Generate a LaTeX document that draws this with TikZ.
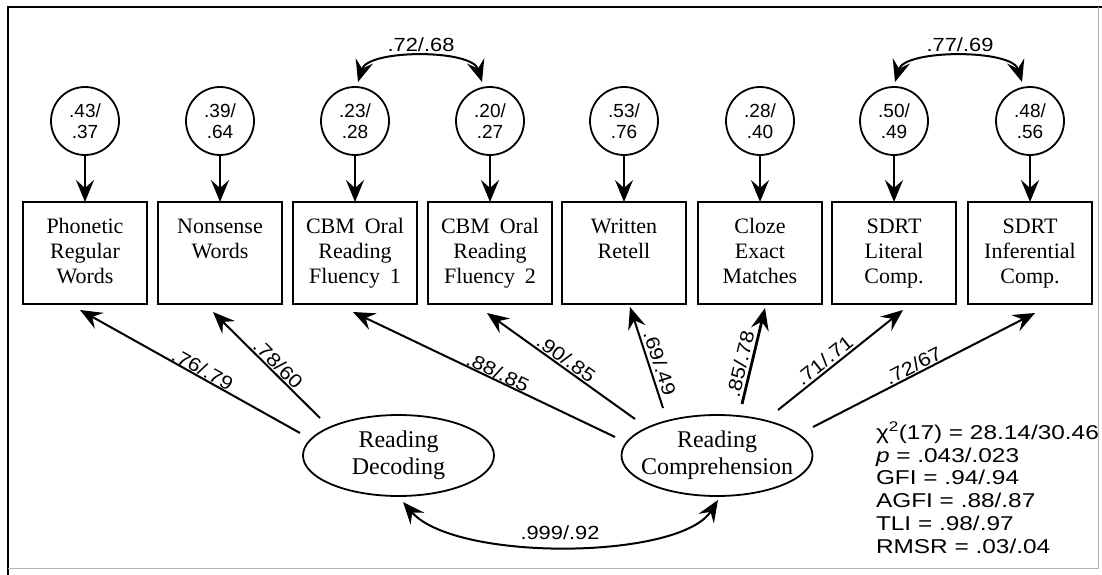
\documentclass[tikz,border=0pt]{standalone}
\usepackage{fontspec}
\setmainfont{Liberation Serif}
\newfontfamily\numfont{Liberation Sans}
\newfontfamily\lblfont[FakeStretch=1.15]{Liberation Sans}
\newfontfamily\statfont[FakeStretch=1.22]{Liberation Sans}
\usetikzlibrary{arrows.meta,calc,shapes.geometric}
\tikzset{
  every node/.style={inner sep=0pt, outer sep=0pt},
  boxnode/.style={draw, line width=1.8pt, minimum width=124pt, minimum height=102pt, align=center,
    font=\fontsize{22}{25}\selectfont},
  errnode/.style={draw, circle, line width=1.8pt, minimum size=68pt, align=center,
    font=\numfont\fontsize{19}{21.5}\selectfont},
  latnode/.style={draw, ellipse, line width=1.8pt, minimum width=191pt, minimum height=81pt,
    inner xsep=-10pt, align=center, font=\fontsize{24}{27}\selectfont},
  tipA/.tip={Stealth[length=22pt,width=18pt,inset=8pt]},
  arr/.style={line width=2pt, -tipA},
  dblarr/.style={line width=2pt, tipA-tipA},
  lbl/.style={font=\lblfont\fontsize{19}{21}\selectfont},
  stat/.style={align=left, font=\statfont\fontsize{20}{22.8}\selectfont},
}
\begin{document}
\begin{tikzpicture}[x=1pt,y=-1pt]
\useasboundingbox (0,0) rectangle (1102,575);
% frame
\draw[line width=2pt] (1102,7) -- (8,7) -- (8,575);
\draw[line width=1pt, black!30] (8,568) -- (1098,568) -- (1098,7);

% observed variables
\node[boxnode] (b1) at (85,253)   {\strut Phonetic\\Regular\\Words\strut};
\node[boxnode] (b2) at (220,253)  {\strut Nonsense\\Words\\\strut};
\node[boxnode] (b3) at (355,253)  {\strut CBM\hspace{0.45em}Oral\\Reading\\Fluency\hspace{0.45em}1\strut};
\node[boxnode] (b4) at (490,253)  {\strut CBM\hspace{0.45em}Oral\\Reading\\Fluency\hspace{0.45em}2\strut};
\node[boxnode] (b5) at (624,253)  {\strut Written\\Retell\\\strut};
\node[boxnode] (b6) at (760,253)  {\strut Cloze\\Exact\\Matches\strut};
\node[boxnode] (b7) at (894,253)  {\strut SDRT\\Literal\\Comp.\strut};
\node[boxnode] (b8) at (1030,253) {\strut SDRT\\Inferential\\Comp.\strut};

% error terms
\node[errnode] (c1) at (85,121)   {.43/\\.37};
\node[errnode] (c2) at (220,121)  {.39/\\.64};
\node[errnode] (c3) at (355,121)  {.23/\\.28};
\node[errnode] (c4) at (490,121)  {.20/\\.27};
\node[errnode] (c5) at (624,121)  {.53/\\.76};
\node[errnode] (c6) at (760,121)  {.28/\\.40};
\node[errnode] (c7) at (894,121)  {.50/\\.49};
\node[errnode] (c8) at (1030,121) {.48/\\.56};

\foreach \i in {1,...,8} { \draw[arr] (c\i) -- (b\i); }

% correlated errors
\draw[dblarr] ($(c3.north)+(3,-5)$) .. controls +(10,-33) and +(-10,-33) .. ($(c4.north)+(-8,-5)$);
\node[lbl] (r34) at (421,45) {.72/.68};
\draw[dblarr] ($(c7.north)+(1,-5)$) .. controls +(10,-33) and +(-10,-33) .. ($(c8.north)+(-8,-5)$);
\node[lbl] (r78) at (960,45) {.77/.69};

% latent variables
\node[latnode] (RD) at (398.5,455.5) {\strut Reading\\Decoding\strut};
\node[latnode] (RC) at (717,455.5) {\strut Reading\\Comprehension\strut};

% loadings
\draw[arr] ($(RD)+(-98.5,-22.5)$) -- node[lbl, sloped, above=1pt, pos=0.46] {.76/.79} ($(b1.south)+(-5,6)$);
\draw[arr] ($(RD)+(-78.5,-37.5)$) -- node[lbl, sloped, above=2pt, pos=0.45] {.78/60} ($(b2.south)+(-7,8)$);
\draw[arr] ($(RC)+(-102,-18.5)$) -- node[lbl, sloped, above=1pt, pos=0.46] {.88/.85} ($(b3.south)+(-2,8)$);
\draw[arr] ($(RC)+(-82,-36.5)$) -- node[lbl, sloped, above=2pt, pos=0.50] {.90/.85} ($(b4.south)+(-3,9)$);
\draw[arr] ($(RC)+(-54,-47.5)$) -- node[lbl, sloped, above=4pt, pos=0.41] {.69/.49} ($(b5.south)+(6,3)$);
\draw[arr, line width=2.8pt] ($(RC)+(25,-51.5)$) -- node[lbl, sloped, above=4pt, pos=0.39] {.85/.78} ($(b6.south)+(5,4)$);
\draw[arr] ($(RC)+(61,-45.5)$) -- node[lbl, sloped, above=3pt, pos=0.42] {.71/.71} ($(b7.south)+(9,6)$);
\draw[arr] ($(RC)+(96,-28.5)$) -- node[lbl, sloped, above=2pt, pos=0.47] {.72/67} ($(b8.south)+(5,9)$);

% latent correlation
\draw[dblarr] ($(RD.south)+(4.5,6)$) .. controls +(52,60) and +(-38,60) .. ($(RC.south)+(1,4)$);
\node[lbl] (r12) at (560,533) {.999/.92};

% fit statistics
\node[stat, anchor=north west] (fit) at (876,422)
  {χ\textsuperscript{2}(17) = 28.14/30.46\\\textit{p} = .043/.023\\GFI = .94/.94\\AGFI = .88/.87\\TLI = .98/.97\\RMSR = .03/.04};
\end{tikzpicture}
\end{document}
